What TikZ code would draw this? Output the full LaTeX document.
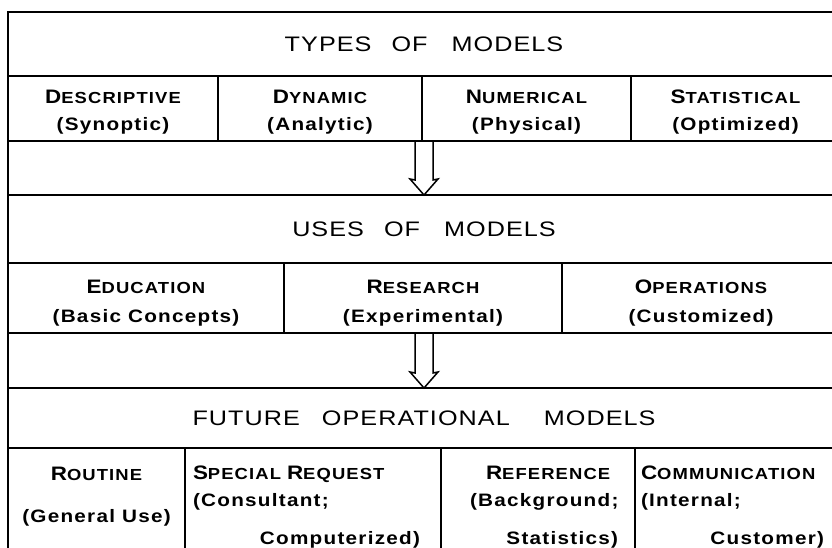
\documentclass[tikz,border=0pt]{standalone}
\usepackage{fontspec}
\setmainfont{Liberation Sans}
\newcommand\smc[2]{{\fontsize{19.5}{19.5}\selectfont #1}{\fontsize{16}{16}\selectfont #2}}
\tikzset{
  frame/.style={draw, line width=1.5pt, inner sep=0pt, outer sep=0pt},
  headline/.style={frame, minimum width=832pt, font=\fontsize{21}{21}\selectfont\addfontfeature{FakeStretch=1.2,LetterSpace=5}},
  cell/.style={frame, align=center, font=\bfseries\fontsize{18}{24}\selectfont\addfontfeature{FakeStretch=1.15,LetterSpace=7}},
  hollow/.style={line width=1.5pt}
}
\begin{document}
\begin{tikzpicture}[x=1pt, y=-1pt]
\clip (0,0) rectangle (832,547);
\node[headline, minimum height=64pt] (types) at (424,44) {TYPES\hspace{20pt}OF\hspace{24pt}MODELS};
\node[cell, minimum width=210pt, minimum height=65pt] (descr) at (113,108.5) {\rule{0pt}{20pt}\smc{D}{ESCRIPTIVE}\\[3pt](Synoptic)};
\node[cell, minimum width=204pt, minimum height=65pt] (dynam) at (320,108.5) {\rule{0pt}{20pt}\smc{D}{YNAMIC}\\[3pt](Analytic)};
\node[cell, minimum width=209pt, minimum height=65pt] (numer) at (526.5,108.5) {\rule{0pt}{20pt}\smc{N}{UMERICAL}\\[3pt](Physical)};
\node[cell, minimum width=209pt, minimum height=65pt] (stati) at (735.5,108.5) {\rule{0pt}{20pt}\smc{S}{TATISTICAL}\\[3pt](Optimized)};
\node[frame, minimum width=832pt, minimum height=54pt] (gapA) at (424,168) {};
\node[headline, minimum height=68pt] (uses) at (424,229) {USES\hspace{20pt}OF\hspace{24pt}MODELS};
\node[cell, minimum width=276pt, minimum height=70pt] (educ) at (146,298) {\rule{0pt}{24pt}\smc{E}{DUCATION}\\[5pt](Basic Concepts)};
\node[cell, minimum width=278pt, minimum height=70pt] (resea) at (423,298) {\rule{0pt}{24pt}\smc{R}{ESEARCH}\\[5pt](Experimental)};
\node[cell, minimum width=278pt, minimum height=70pt] (opera) at (701,298) {\rule{0pt}{24pt}\smc{O}{PERATIONS}\\[5pt](Customized)};
\node[frame, minimum width=832pt, minimum height=55pt] (gapB) at (424,360.5) {};
\node[headline, minimum height=60pt] (future) at (424,418) {FUTURE\hspace{22pt}OPERATIONAL\hspace{34pt}MODELS};
\node[cell, minimum width=177pt, minimum height=118pt] (routi) at (96.5,507) {\smc{R}{OUTINE}\\[18pt](General Use)\\\mbox{}};
\node[cell, minimum width=256pt, minimum height=118pt, text width=240pt, align=left] (speci) at (313,507) {\smc{S}{PECIAL} \smc{R}{EQUEST}\\[3pt](Consultant;\\[14pt]\hspace*{\fill}Computerized)\hspace*{13pt}\mbox{}};
\node[cell, minimum width=194pt, minimum height=118pt, text width=172pt, align=left] (refer) at (538,507) {\hspace*{34pt}\smc{R}{EFERENCE}\\[3pt]\hspace*{18pt}(Background;\\[14pt]\hspace*{\fill}Statistics)\hspace*{6pt}\mbox{}};
\node[cell, minimum width=205pt, minimum height=118pt, text width=193pt, align=left] (commu) at (737.5,507) {\smc{C}{OMMUNICATION}\\[3pt](Internal;\\[14pt]\hspace*{\fill}Customer)\hspace*{10pt}\mbox{}};
\draw[hollow] ([xshift=-9pt]gapA.north) -- ([xshift=-9pt,yshift=15pt]uses.north) -- ([xshift=-14pt,yshift=16pt]uses.north) -- (uses.north) -- ([xshift=14pt,yshift=16pt]uses.north) -- ([xshift=9pt,yshift=15pt]uses.north) -- ([xshift=9pt]gapA.north);
\draw[hollow] ([xshift=-9pt]gapB.north) -- ([xshift=-9pt,yshift=15pt]future.north) -- ([xshift=-14pt,yshift=16pt]future.north) -- (future.north) -- ([xshift=14pt,yshift=16pt]future.north) -- ([xshift=9pt,yshift=15pt]future.north) -- ([xshift=9pt]gapB.north);
\end{tikzpicture}
\end{document}
